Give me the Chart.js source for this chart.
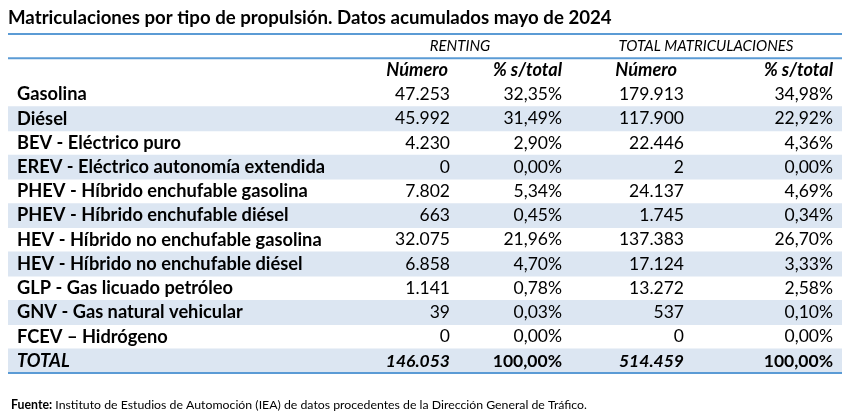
<!DOCTYPE html>
<html>
<head>
<meta charset="utf-8">
<script src="https://cdn.jsdelivr.net/npm/chart.js@4.4.0/dist/chart.umd.min.js"></script>
<style>
  body { margin: 0; background: #fff; }
  .wrap { width: 850px; height: 413px; position: relative; }
</style>
</head>
<body>
<div class="wrap"><canvas id="tbl"></canvas></div>
<script>
const rowLabels = ['Gasolina', 'Diésel', 'BEV - Eléctrico puro', 'EREV - Eléctrico autonomía extendida',
	'PHEV - Híbrido enchufable gasolina', 'PHEV - Híbrido enchufable diésel', 'HEV - Híbrido no enchufable gasolina',
	'HEV - Híbrido no enchufable diésel', 'GLP - Gas licuado petróleo', 'GNV - Gas natural vehicular', 'FCEV – Hidrógeno'];
const rentingNum = [47253, 45992, 4230, 0, 7802, 663, 32075, 6858, 1141, 39, 0];
const rentingPct = [32.35, 31.49, 2.90, 0.00, 5.34, 0.45, 21.96, 4.70, 0.78, 0.03, 0.00];
const totalNum = [179913, 117900, 22446, 2, 24137, 1745, 137383, 17124, 13272, 537, 0];
const totalPct = [34.98, 22.92, 4.36, 0.00, 4.69, 0.34, 26.70, 3.33, 2.58, 0.10, 0.00];
const totalRow = [146053, 100, 514459, 100];
const groupHeaders = ['RENTING', 'TOTAL MATRICULACIONES'];
const subHeaders = ['Número', '% s/total', 'Número', '% s/total'];

const title = 'Matriculaciones por tipo de propulsión. Datos acumulados mayo de 2024';
const sourceBold = 'Fuente:';
const sourceText = ' Instituto de Estudios de Automoción (IEA) de datos procedentes de la Dirección General de Tráfico.';

const BLUE = '#5b9bd5';
const BAND = '#dce6f2';
const FONT = 'Lato, "Open Sans", sans-serif';

// rows on the category axis: two header rows, the body, the total
const rows = ['h1', 'h2'].concat(rowLabels, ['TOTAL']);
const bands = rows.map((r, i) => (i >= 2 && i % 2 === 1) ? [8, 842] : null);

function fmtNum(n) {
	return String(n).replace(/\B(?=(\d{3})+(?!\d))/g, '.');
}
function fmtPct(p) {
	return p.toFixed(2).replace('.', ',') + '%';
}

// pick a font size so a sample string comes out as wide as in the original table
const measure = document.createElement('canvas').getContext('2d');
function fit(style, sample, width) {
	measure.font = style + ' 20px ' + FONT;
	const s = 20 * width / measure.measureText(sample).width;
	return style + ' ' + s.toFixed(2) + 'px ' + FONT;
}
const fTitle = fit('bold', title, 604);
const fLabel = fit('bold', 'EREV - Eléctrico autonomía extendida', 308);
const fNum = '17.5px ' + FONT;
const fPct = '17.5px ' + FONT;
const fGroup = fit('italic', 'TOTAL MATRICULACIONES', 175);
const fSub = fit('italic bold', '% s/total', 69);
const fTotalLab = fLabel.replace('bold', 'italic bold');
const fTotalNum = 'italic bold 17.5px ' + FONT;
const fTotalPct = 'bold 17.5px ' + FONT;
const fSrcSize = (() => {
	measure.font = 'bold 13px ' + FONT;
	const a = measure.measureText(sourceBold).width;
	measure.font = '13px ' + FONT;
	const b = measure.measureText(sourceText).width;
	return 13 * 577 / (a + b);
})();

// x anchors of the columns (x scale runs in page pixels)
const labelX = 17;
const colRight = [450, 562, 684, 833];
const subHeadRight = [448, 562, 677, 833];
const groupCenter = [460, 706];

const tablePlugin = {
	id: 'tableText',
	afterDraw(chart) {
		const ctx = chart.ctx;
		const x = chart.scales.x, y = chart.scales.y;
		const half = (y.getPixelForValue(1) - y.getPixelForValue(0)) / 2;
		ctx.save();

		// title + source
		ctx.fillStyle = '#000';
		ctx.textBaseline = 'middle';
		ctx.textAlign = 'left';
		ctx.font = fTitle;
		ctx.fillText(title, 8, 18);
		ctx.font = 'bold ' + fSrcSize + 'px ' + FONT;
		ctx.fillText(sourceBold, 11, 405);
		const w = ctx.measureText(sourceBold).width;
		ctx.font = fSrcSize + 'px ' + FONT;
		ctx.fillText(sourceText, 11 + w, 405);

		// blue rules
		ctx.strokeStyle = BLUE;
		ctx.lineWidth = 2;
		[y.getPixelForValue(0) - half, y.getPixelForValue(0) + half, y.getPixelForValue(rows.length - 1) + half].forEach(py => {
			ctx.beginPath();
			ctx.moveTo(x.getPixelForValue(8), py);
			ctx.lineTo(x.getPixelForValue(842), py);
			ctx.stroke();
		});

		// header rows
		ctx.textAlign = 'center';
		ctx.font = fGroup;
		groupHeaders.forEach((t, i) => ctx.fillText(t, x.getPixelForValue(groupCenter[i]), y.getPixelForValue(0)));
		ctx.textAlign = 'right';
		ctx.font = fSub;
		subHeaders.forEach((t, i) => ctx.fillText(t, x.getPixelForValue(subHeadRight[i]), y.getPixelForValue(1)));

		// body
		rowLabels.forEach((lab, i) => {
			const py = y.getPixelForValue(i + 2);
			ctx.textAlign = 'left';
			ctx.font = fLabel;
			ctx.fillText(lab, x.getPixelForValue(labelX), py);
			ctx.textAlign = 'right';
			const cells = [fmtNum(rentingNum[i]), fmtPct(rentingPct[i]), fmtNum(totalNum[i]), fmtPct(totalPct[i])];
			cells.forEach((c, j) => {
				ctx.font = j % 2 ? fPct : fNum;
				ctx.fillText(c, x.getPixelForValue(colRight[j]), py);
			});
		});

		// total row
		const ty = y.getPixelForValue(rows.length - 1);
		ctx.textAlign = 'left';
		ctx.font = fTotalLab;
		ctx.fillText('TOTAL', x.getPixelForValue(labelX), ty);
		ctx.textAlign = 'right';
		totalRow.forEach((v, j) => {
			const isPct = j % 2 === 1;
			ctx.font = isPct ? fTotalPct : fTotalNum;
			ctx.fillText(isPct ? fmtPct(v) : fmtNum(v), x.getPixelForValue(colRight[j]), ty);
		});

		ctx.restore();
	}
};

new Chart(document.getElementById('tbl'), {
	type: 'bar',
	data: {
		labels: rows,
		datasets: [{
			data: bands,
			backgroundColor: BAND,
			borderWidth: 0,
			barPercentage: 1,
			categoryPercentage: 1
		}]
	},
	options: {
		indexAxis: 'y',
		responsive: true,
		maintainAspectRatio: false,
		animation: false,
		layout: { padding: { left: 8, right: 8, top: 34, bottom: 40 } },
		scales: {
			x: { type: 'linear', min: 8, max: 842, display: false },
			y: { display: false }
		},
		plugins: { legend: { display: false }, tooltip: { enabled: false } }
	},
	plugins: [tablePlugin]
});
</script>
</body>
</html>
